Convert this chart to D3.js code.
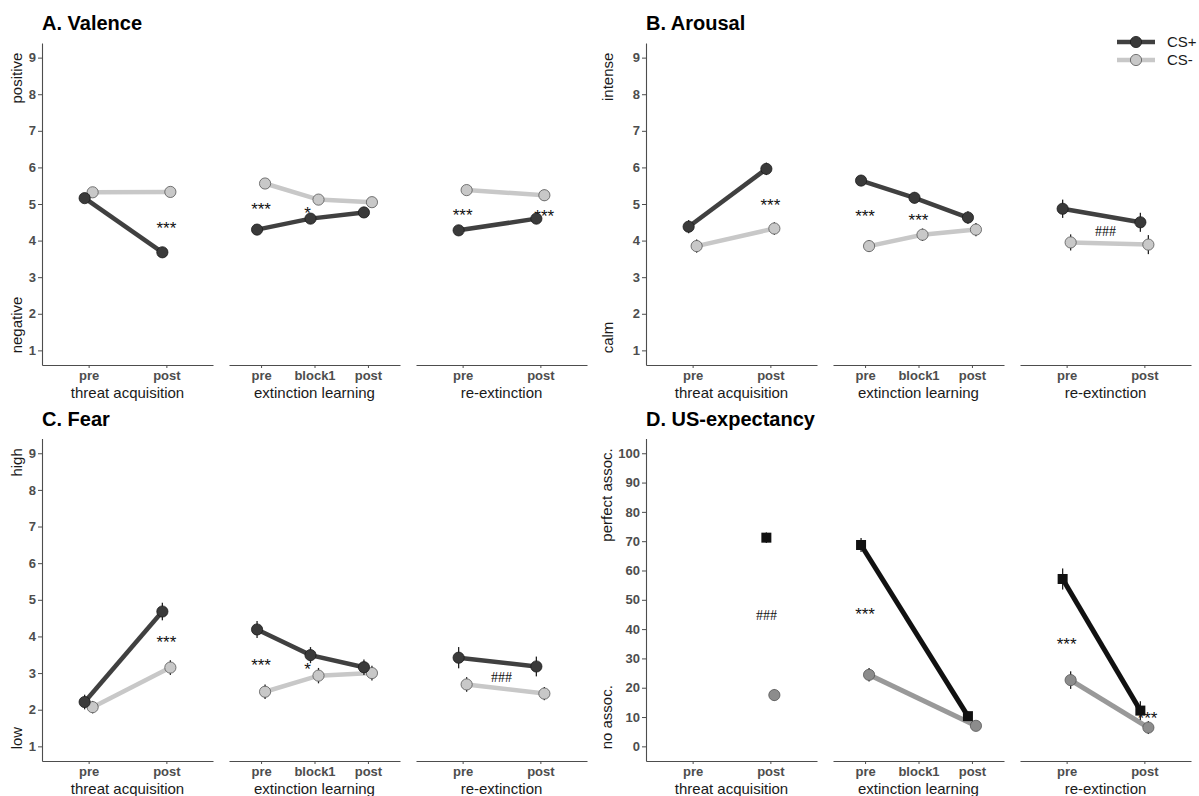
<!DOCTYPE html>
<html>
<head>
<meta charset="utf-8">
<script src="https://d3js.org/d3.v7.min.js"></script>
<style>
body { margin: 0; background: #fff; }
text { font-family: Arial, "Liberation Sans", sans-serif; }
</style>
</head>
<body>
<div id="chart"></div>
<script>
// ---- data ----
var phases = ["threat acquisition", "extinction learning", "re-extinction"];
var times = [["pre", "post"], ["pre", "block1", "post"], ["pre", "post"]];
var seriesNames = ["CS+", "CS-"];

var ratingTicks = [1, 2, 3, 4, 5, 6, 7, 8, 9];
var usTicks = [0, 10, 20, 30, 40, 50, 60, 70, 80, 90, 100];

// A. Valence
var valencePlus    = [[5.16, 3.68], [4.30, 4.60, 4.77], [4.28, 4.60]];
var valenceMinus   = [[5.32, 5.33], [5.56, 5.12, 5.05], [5.38, 5.24]];
var valencePlusSE  = [[0.10, 0.12], [0.10, 0.10, 0.10], [0.09, 0.11]];
var valenceMinusSE = [[0.09, 0.10], [0.11, 0.11, 0.11], [0.13, 0.15]];
var valenceMarks = [
  { phase: 0, at: 1, y: 4.46, label: "***" },
  { phase: 1, at: 0, y: 4.98, label: "***" },
  { phase: 1, at: 0.87, y: 4.87, label: "*" },
  { phase: 2, at: 0, y: 4.82, label: "***" },
  { phase: 2, at: 1.05, y: 4.77, label: "***" }
];

// B. Arousal
var arousalPlus    = [[4.38, 5.96], [5.64, 5.17, 4.63], [4.87, 4.50]];
var arousalMinus   = [[3.85, 4.33], [3.85, 4.16, 4.30], [3.95, 3.89]];
var arousalPlusSE  = [[0.18, 0.17], [0.15, 0.15, 0.17], [0.25, 0.26]];
var arousalMinusSE = [[0.18, 0.17], [0.16, 0.17, 0.18], [0.22, 0.26]];
var arousalMarks = [
  { phase: 0, at: 1, y: 5.09, label: "***" },
  { phase: 1, at: 0, y: 4.79, label: "***" },
  { phase: 1, at: 1, y: 4.68, label: "***" },
  { phase: 2, at: 0.5, y: 4.27, label: "###" }
];

// C. Fear
var fearPlus    = [[2.21, 4.68], [4.19, 3.49, 3.16], [3.42, 3.18]];
var fearMinus   = [[2.07, 3.15], [2.49, 2.93, 3.00], [2.69, 2.44]];
var fearPlusSE  = [[0.20, 0.24], [0.23, 0.22, 0.21], [0.29, 0.27]];
var fearMinusSE = [[0.17, 0.20], [0.20, 0.21, 0.20], [0.20, 0.18]];
var fearMarks = [
  { phase: 0, at: 1, y: 3.96, label: "***" },
  { phase: 1, at: 0, y: 3.32, label: "***" },
  { phase: 1, at: 0.87, y: 3.21, label: "*" },
  { phase: 2, at: 0.5, y: 2.90, label: "###" }
];

// D. US-expectancy (no rating before acquisition, none at block1)
var usPlus    = [[null, 71.2], [68.7, null, 10.3], [57.1, 12.2]];
var usMinus   = [[null, 17.5], [24.4, null, 7.0], [22.6, 6.4]];
var usPlusSE  = [[0, 1.8], [2.4, 0, 1.6], [3.6, 3.2]];
var usMinusSE = [[0, 1.9], [2.3, 0, 1.5], [3.0, 2.2]];
var usMarks = [
  { phase: 0, at: 0.95, y: 44.9, label: "###" },
  { phase: 1, at: 0, y: 46.4, label: "***" },
  { phase: 2, at: 0, y: 36.4, label: "***" },
  { phase: 2, at: 1.04, y: 10.9, label: "***" }
];

// ---- layout ----
var width = 1199, height = 796;
var facetW = 171, facetGap = 16, dodge = 4;

var svg = d3.select("#chart").append("svg")
    .attr("width", width)
    .attr("height", height);

var panels = [
  { title: "A. Valence", left: 42, top: 43, bottom: 365, domain: [1, 9], ticks: ratingTicks,
    hi: "positive", lo: "negative", titleX: 22,
    plus: valencePlus, minus: valenceMinus, plusSE: valencePlusSE, minusSE: valenceMinusSE, marks: valenceMarks },
  { title: "B. Arousal", left: 646, top: 43, bottom: 365, domain: [1, 9], ticks: ratingTicks,
    hi: "intense", lo: "calm", titleX: 613,
    plus: arousalPlus, minus: arousalMinus, plusSE: arousalPlusSE, minusSE: arousalMinusSE, marks: arousalMarks },
  { title: "C. Fear", left: 42, top: 438.6, bottom: 761, domain: [1, 9], ticks: ratingTicks,
    hi: "high", lo: "low", titleX: 22,
    plus: fearPlus, minus: fearMinus, plusSE: fearPlusSE, minusSE: fearMinusSE, marks: fearMarks },
  { title: "D. US-expectancy", left: 646, top: 438.6, bottom: 761, domain: [0, 100], ticks: usTicks,
    hi: "perfect assoc.", lo: "no assoc.", titleX: 612, us: true,
    plus: usPlus, minus: usMinus, plusSE: usPlusSE, minusSE: usMinusSE, marks: usMarks }
];

panels.forEach(drawPanel);

function drawPanel(p) {
  var g = svg.append("g");
  var lo = p.domain[0], hi = p.domain[1], pad = (hi - lo) * 0.05;
  var y = d3.scaleLinear().domain([lo - pad, hi + pad]).range([p.bottom, p.top]);

  // title
  g.append("text")
      .attr("x", p.left)
      .attr("y", p.top - 13)
      .style("font-size", "20px")
      .style("font-weight", "bold")
      .style("fill", "#000")
      .text(p.title);

  // y axis
  var ya = g.append("g")
      .attr("transform", "translate(" + p.left + ",0)")
      .call(d3.axisLeft(y).tickValues(p.ticks).tickSize(4).tickSizeOuter(0).tickPadding(2));
  styleAxis(ya);

  // y axis end labels
  g.append("text")
      .attr("transform", "translate(" + p.titleX + "," + (y(hi) - 5) + ")rotate(-90)")
      .attr("text-anchor", "end")
      .style("font-size", "15px")
      .style("fill", "#1a1a1a")
      .text(p.hi);
  g.append("text")
      .attr("transform", "translate(" + p.titleX + "," + (y(lo) + 3) + ")rotate(-90)")
      .attr("text-anchor", "start")
      .style("font-size", "15px")
      .style("fill", "#1a1a1a")
      .text(p.lo);

  var plusColor = p.us ? "#111" : "#404040";
  var minusColor = p.us ? "#999" : "#c8c8c8";

  phases.forEach(function(ph, i) {
    var fx0 = p.left + i * (facetW + facetGap);
    var x = d3.scalePoint().domain(times[i]).range([fx0, fx0 + facetW]).padding(0.6);

    var xa = g.append("g")
        .attr("transform", "translate(0," + p.bottom + ")")
        .call(d3.axisBottom(x).tickSize(3).tickSizeOuter(0));
    styleAxis(xa);

    g.append("text")
        .attr("x", fx0 + facetW / 2)
        .attr("y", p.bottom + 33)
        .attr("text-anchor", "middle")
        .style("font-size", "15px")
        .style("fill", "#1a1a1a")
        .text(ph);

    // annotations (drawn under the markers)
    p.marks.filter(function(m) { return m.phase === i; }).forEach(function(m) {
      var mx = x(times[i][0]) + m.at * x.step();
      var hash = m.label.charAt(0) === "#";
      g.append("text")
          .attr("x", mx)
          .attr("y", y(m.y) + (hash ? 5 : 10))
          .attr("text-anchor", "middle")
          .style("font-family", hash ? "'Liberation Serif', serif" : null)
          .style("font-size", hash ? "14px" : "17px")
          .style("fill", "#111")
          .text(m.label);
    });

    var series = [
      { name: "CS+", vals: p.plus[i], se: p.plusSE[i], off: -dodge, color: plusColor },
      { name: "CS-", vals: p.minus[i], se: p.minusSE[i], off: dodge, color: minusColor }
    ];

    // draw CS- first so CS+ sits on top
    series.slice().reverse().forEach(function(s) {
      var pts = times[i].map(function(t, k) {
        return { x: x(t) + s.off, v: s.vals[k], se: s.se[k] };
      }).filter(function(d) { return d.v !== null; });

      g.append("path")
          .datum(pts)
          .attr("fill", "none")
          .attr("stroke", s.color)
          .attr("stroke-width", p.us ? 5 : 4.5)
          .attr("d", d3.line().x(function(d) { return d.x; }).y(function(d) { return y(d.v); }));

      g.selectAll(null).data(pts).enter().append("line")
          .attr("x1", function(d) { return d.x; })
          .attr("x2", function(d) { return d.x; })
          .attr("y1", function(d) { return y(d.v - d.se); })
          .attr("y2", function(d) { return y(d.v + d.se); })
          .attr("stroke", "#222")
          .attr("stroke-width", 1.3);

      if (p.us && s.name === "CS+") {
        g.selectAll(null).data(pts).enter().append("rect")
            .attr("x", function(d) { return d.x - 5; })
            .attr("y", function(d) { return y(d.v) - 5; })
            .attr("width", 10)
            .attr("height", 10)
            .attr("fill", "#111");
      } else {
        g.selectAll(null).data(pts).enter().append("circle")
            .attr("cx", function(d) { return d.x; })
            .attr("cy", function(d) { return y(d.v); })
            .attr("r", 5.6)
            .attr("fill", s.name === "CS+" ? "#3a3a3a" : (p.us ? "#8c8c8c" : "#c8c8c8"))
            .attr("stroke", s.name === "CS+" ? "#1a1a1a" : "#555")
            .attr("stroke-width", 0.8);
      }
    });
  });
}

function styleAxis(a) {
  a.select(".domain").attr("stroke", "#4d4d4d").attr("stroke-width", 1.1);
  a.selectAll(".tick line").attr("stroke", "#4d4d4d");
  a.selectAll(".tick text")
      .style("font-family", "Arial, 'Liberation Sans', sans-serif")
      .style("font-size", "13px")
      .style("font-weight", "bold")
      .style("fill", "#4d4d4d");
}

// ---- legend ----
var legend = svg.append("g").attr("transform", "translate(1117,42)");
var legendColors = ["#404040", "#c8c8c8"];
var legendFill = ["#3a3a3a", "#c8c8c8"];
seriesNames.forEach(function(name, i) {
  var row = legend.append("g").attr("transform", "translate(0," + i * 18 + ")");
  row.append("line")
      .attr("x1", 0).attr("x2", 38)
      .attr("stroke", legendColors[i])
      .attr("stroke-width", 4.5);
  row.append("circle")
      .attr("cx", 19).attr("r", 5.6)
      .attr("fill", legendFill[i])
      .attr("stroke", i === 0 ? "#1a1a1a" : "#555")
      .attr("stroke-width", 0.8);
  row.append("text")
      .attr("x", 50)
      .attr("dy", "0.35em")
      .style("font-size", "15px")
      .style("fill", "#1a1a1a")
      .text(name);
});
</script>
</body>
</html>
